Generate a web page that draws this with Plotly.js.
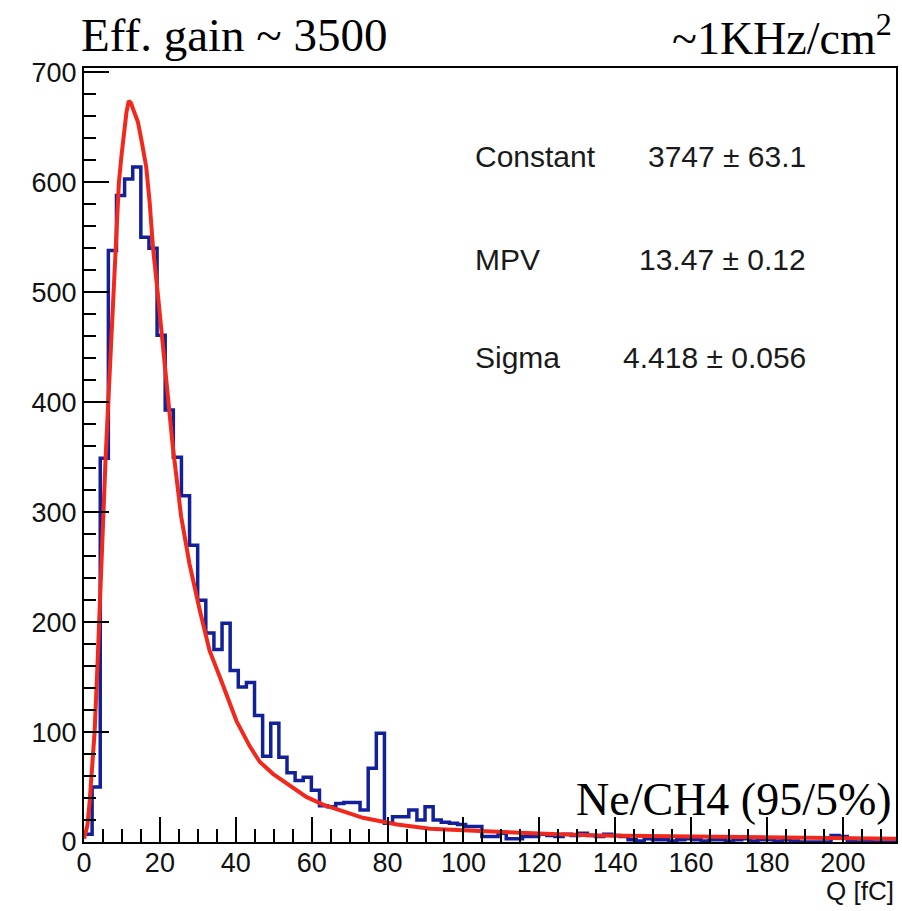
<!DOCTYPE html>
<html>
<head>
<meta charset="utf-8">
<script src="https://cdn.plot.ly/plotly-3.0.1.min.js"></script>
<style>html,body{margin:0;padding:0;background:#fff;}#chart{width:902px;height:911px;}</style>
</head>
<body>
<div id="chart"></div>
<script>
// Histogram: 100 bins over Q = 0 .. 214 fC
const histMin = 0;
const histMax = 214;
const counts = [
  7, 50, 349, 538, 588, 603, 614, 550, 540, 461,
  393, 350, 315, 270, 220, 190, 175, 199, 156, 141,
  145, 115, 78, 108, 77, 63, 56, 59, 47, 33,
  32, 35, 36, 36, 29, 67, 99, 17, 23, 23,
  29, 20, 32, 20, 18, 17, 16, 14, 14, 5,
  5, 8, 3, 3, 5, 5, 7, 6, 5, 7,
  6, 8, 6, 5, 7, 6, 5, 2, 1, 3,
  2, 2, 1, 2, 3, 2, 1, 2, 2, 1,
  2, 3, 1, 2, 2, 1, 2, 1, 0, 0,
  0, 0, 6, 5, 1, 0, 1, 0, 0, 0
];

// Landau fit curve
const fitQ = [0, 0.9, 1.45, 2.1, 2.8, 3.6, 4.3, 5.0, 5.7, 6.4, 7.1, 7.8, 8.5, 9.2, 9.9, 10.6, 11.2, 11.8, 12.4, 13.0, 13.6, 14.2, 15.1, 16.4, 17.3, 18.2, 19.5, 20.8, 22.1, 23.4, 25.6, 27.8, 30.5, 33.1, 35.8, 40.2, 43.7, 46.3, 49.8, 54.2, 58.6, 63.0, 67.4, 73.5, 82.5, 91.2, 104.3, 114.9, 125, 136, 150, 162, 175, 189, 200, 214];
const fitVal = [3, 15, 35, 62, 100, 165, 230, 295, 350, 400, 455, 510, 560, 600, 625, 648, 664, 674, 672, 666, 661, 655, 639, 614, 582, 540, 497, 451, 406, 360, 296, 253, 211, 174, 150, 110, 87, 73, 62, 51, 41, 34, 29, 22, 16, 12, 10, 8, 7, 6, 5.5, 5, 4.5, 4, 3.5, 3];

// Texts
const topLeftText = "Eff. gain ~ 3500";
const topRightText = "~1KHz/cm<sup>2</sup>";
const gasText = "Ne/CH4 (95/5%)";
const xTitle = "Q [fC]";
const statNames = ["Constant", "MPV", "Sigma"];
const statValues = ["3747 ± 63.1", "13.47 ± 0.12", "4.418 ± 0.056"];

const yMax = 704;

const binW = (histMax - histMin) / counts.length;
const hx = counts.map((_, i) => histMin + i * binW);
const hy = counts.slice();
hx.push(histMax); hy.push(counts[counts.length - 1]);

const traces = [
  {
    type: 'scatter', mode: 'lines', x: hx, y: hy,
    line: {shape: 'hv', color: '#12219a', width: 3.5},
    hoverinfo: 'skip', showlegend: false
  },
  {
    type: 'scatter', mode: 'lines', x: fitQ, y: fitVal,
    line: {shape: 'linear', color: '#f2281c', width: 4},
    hoverinfo: 'skip', showlegend: false
  }
];

const sans = 'Liberation Sans, Arial, Helvetica, sans-serif';
const serif = 'Liberation Serif, Times New Roman, serif';

const annotations = [
  {xref: 'paper', yref: 'paper', x: -0.006, y: 1.043, xanchor: 'left', yanchor: 'middle',
   text: topLeftText, showarrow: false, font: {family: serif, size: 47, color: '#000'}},
  {xref: 'paper', yref: 'paper', x: 0.997, y: 1.043, xanchor: 'right', yanchor: 'middle',
   text: topRightText, showarrow: false, font: {family: serif, size: 46, color: '#000'}},
  {xref: 'paper', yref: 'paper', x: 0.997, y: 0.055, xanchor: 'right', yanchor: 'middle',
   text: gasText, showarrow: false, font: {family: serif, size: 46, color: '#000'}},
  {xref: 'paper', yref: 'paper', x: 1.0, y: -0.063, xanchor: 'right', yanchor: 'middle',
   text: xTitle, showarrow: false, font: {family: sans, size: 26, color: '#111'}}
];
const statY = [0.886, 0.753, 0.626];
statNames.forEach((n, i) => {
  annotations.push({xref: 'paper', yref: 'paper', x: 0.479, y: statY[i], xanchor: 'left', yanchor: 'middle',
    text: n, showarrow: false, font: {family: sans, size: 30, color: '#1a1a1a'}});
  annotations.push({xref: 'paper', yref: 'paper', x: 0.892, y: statY[i], xanchor: 'right', yanchor: 'middle',
    text: statValues[i], showarrow: false, font: {family: sans, size: 30, color: '#1a1a1a'}});
});

const layout = {
  width: 902, height: 911,
  margin: {l: 84, r: 6, t: 68, b: 69},
  paper_bgcolor: '#fff', plot_bgcolor: '#fff',
  showlegend: false,
  xaxis: {
    range: [histMin, histMax], showgrid: false, zeroline: false,
    showline: true, linecolor: '#000', linewidth: 2, mirror: true,
    ticks: 'inside', ticklen: 25, tickwidth: 2, tickcolor: '#000',
    tick0: 0, dtick: 20, ticklabelstandoff: -4,
    minor: {dtick: 5, ticklen: 13, tickwidth: 2, tickcolor: '#000', ticks: 'inside'},
    tickfont: {family: sans, size: 27, color: '#111'}
  },
  yaxis: {
    range: [0, yMax], showgrid: false, zeroline: false,
    showline: true, linecolor: '#000', linewidth: 2, mirror: true,
    ticks: 'inside', ticklen: 25, tickwidth: 2, tickcolor: '#000',
    tick0: 0, dtick: 100,
    minor: {dtick: 20, ticklen: 12, tickwidth: 2, tickcolor: '#000', ticks: 'inside'},
    tickfont: {family: sans, size: 27, color: '#111'}
  },
  annotations: annotations
};

Plotly.newPlot('chart', traces, layout, {staticPlot: true, displayModeBar: false});
</script>
</body>
</html>
